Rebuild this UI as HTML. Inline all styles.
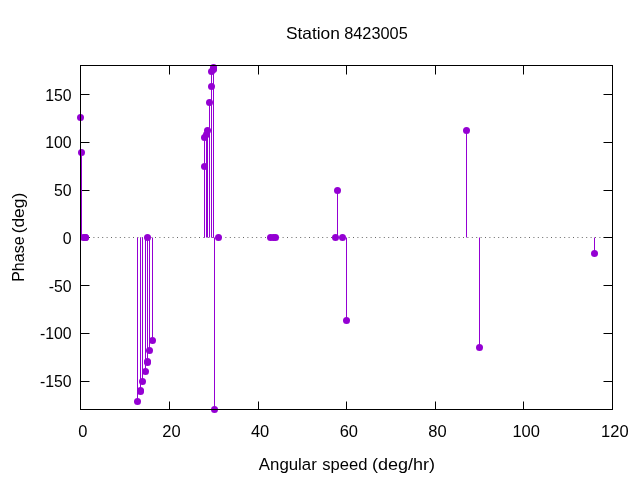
<!DOCTYPE html>
<html><head><meta charset="utf-8"><title>Station 8423005</title>
<style>html,body{margin:0;padding:0;background:#fff;overflow:hidden}svg{display:block}text{font-family:"Liberation Sans",sans-serif;font-size:16.5px;fill:#000}</style>
</head><body>
<svg width="640" height="480" viewBox="0 0 640 480">
<rect width="640" height="480" fill="#fff"/>
<line x1="80.2" y1="237.5" x2="612.5" y2="237.5" stroke="#000" stroke-width="0.6" stroke-dasharray="1 3.4"/>
<g stroke="#000" stroke-width="1" fill="none">
<line x1="169.5" y1="409.5" x2="169.5" y2="401.5"/>
<line x1="169.5" y1="65.5" x2="169.5" y2="74.5"/>
<line x1="258.5" y1="409.5" x2="258.5" y2="401.5"/>
<line x1="258.5" y1="65.5" x2="258.5" y2="74.5"/>
<line x1="346.5" y1="409.5" x2="346.5" y2="401.5"/>
<line x1="346.5" y1="65.5" x2="346.5" y2="74.5"/>
<line x1="435.5" y1="409.5" x2="435.5" y2="401.5"/>
<line x1="435.5" y1="65.5" x2="435.5" y2="74.5"/>
<line x1="523.5" y1="409.5" x2="523.5" y2="401.5"/>
<line x1="523.5" y1="65.5" x2="523.5" y2="74.5"/>
<line x1="80.5" y1="94.5" x2="89.5" y2="94.5"/>
<line x1="612.5" y1="94.5" x2="603.5" y2="94.5"/>
<line x1="80.5" y1="142.5" x2="89.5" y2="142.5"/>
<line x1="612.5" y1="142.5" x2="603.5" y2="142.5"/>
<line x1="80.5" y1="190.5" x2="89.5" y2="190.5"/>
<line x1="612.5" y1="190.5" x2="603.5" y2="190.5"/>
<line x1="80.5" y1="237.5" x2="89.5" y2="237.5"/>
<line x1="612.5" y1="237.5" x2="603.5" y2="237.5"/>
<line x1="80.5" y1="285.5" x2="89.5" y2="285.5"/>
<line x1="612.5" y1="285.5" x2="603.5" y2="285.5"/>
<line x1="80.5" y1="333.5" x2="89.5" y2="333.5"/>
<line x1="612.5" y1="333.5" x2="603.5" y2="333.5"/>
<line x1="80.5" y1="381.5" x2="89.5" y2="381.5"/>
<line x1="612.5" y1="381.5" x2="603.5" y2="381.5"/>
</g>
<g stroke="#9400d3" stroke-width="1" fill="none">
<line x1="80.5" y1="237.5" x2="80.5" y2="117.5"/>
<line x1="81.5" y1="237.5" x2="81.5" y2="152.5"/>
<line x1="137.5" y1="237.5" x2="137.5" y2="401.5"/>
<line x1="140.5" y1="237.5" x2="140.5" y2="390.5"/>
<line x1="140.5" y1="237.5" x2="140.5" y2="391.5"/>
<line x1="142.5" y1="237.5" x2="142.5" y2="381.5"/>
<line x1="145.5" y1="237.5" x2="145.5" y2="371.5"/>
<line x1="147.5" y1="237.5" x2="147.5" y2="361.5"/>
<line x1="147.5" y1="237.5" x2="147.5" y2="362.5"/>
<line x1="149.5" y1="237.5" x2="149.5" y2="350.5"/>
<line x1="152.5" y1="237.5" x2="152.5" y2="340.5"/>
<line x1="204.5" y1="237.5" x2="204.5" y2="166.5"/>
<line x1="204.5" y1="237.5" x2="204.5" y2="137.5"/>
<line x1="206.5" y1="237.5" x2="206.5" y2="134.5"/>
<line x1="207.5" y1="237.5" x2="207.5" y2="130.5"/>
<line x1="209.5" y1="237.5" x2="209.5" y2="102.5"/>
<line x1="211.5" y1="237.5" x2="211.5" y2="86.5"/>
<line x1="211.5" y1="237.5" x2="211.5" y2="71.5"/>
<line x1="213.5" y1="237.5" x2="213.5" y2="69.5"/>
<line x1="213.5" y1="237.5" x2="213.5" y2="68.5"/>
<line x1="213.5" y1="237.5" x2="213.5" y2="67.5"/>
<line x1="214.5" y1="237.5" x2="214.5" y2="409.5"/>
<line x1="337.5" y1="237.5" x2="337.5" y2="190.5"/>
<line x1="346.5" y1="237.5" x2="346.5" y2="320.5"/>
<line x1="466.5" y1="237.5" x2="466.5" y2="130.5"/>
<line x1="479.5" y1="237.5" x2="479.5" y2="347.5"/>
<line x1="594.5" y1="237.5" x2="594.5" y2="253.5"/>
</g>
<g fill="#9400d3">
<circle cx="80.5" cy="117.5" r="3.5"/>
<circle cx="81.5" cy="152.5" r="3.5"/>
<circle cx="83.5" cy="237.5" r="3.5"/>
<circle cx="85.5" cy="237.5" r="3.5"/>
<circle cx="85.5" cy="237.5" r="3.5"/>
<circle cx="137.5" cy="401.5" r="3.5"/>
<circle cx="140.5" cy="390.5" r="3.5"/>
<circle cx="140.5" cy="391.5" r="3.5"/>
<circle cx="142.5" cy="381.5" r="3.5"/>
<circle cx="145.5" cy="371.5" r="3.5"/>
<circle cx="147.5" cy="361.5" r="3.5"/>
<circle cx="147.5" cy="362.5" r="3.5"/>
<circle cx="147.5" cy="237.5" r="3.5"/>
<circle cx="149.5" cy="350.5" r="3.5"/>
<circle cx="152.5" cy="340.5" r="3.5"/>
<circle cx="204.5" cy="166.5" r="3.5"/>
<circle cx="204.5" cy="137.5" r="3.5"/>
<circle cx="206.5" cy="134.5" r="3.5"/>
<circle cx="207.5" cy="130.5" r="3.5"/>
<circle cx="209.5" cy="102.5" r="3.5"/>
<circle cx="211.5" cy="86.5" r="3.5"/>
<circle cx="211.5" cy="71.5" r="3.5"/>
<circle cx="213.5" cy="69.5" r="3.5"/>
<circle cx="213.5" cy="68.5" r="3.5"/>
<circle cx="213.5" cy="67.5" r="3.5"/>
<circle cx="214.5" cy="409.5" r="3.5"/>
<circle cx="218.5" cy="237.5" r="3.5"/>
<circle cx="270.5" cy="237.5" r="3.5"/>
<circle cx="273.5" cy="237.5" r="3.5"/>
<circle cx="275.5" cy="237.5" r="3.5"/>
<circle cx="335.5" cy="237.5" r="3.5"/>
<circle cx="337.5" cy="190.5" r="3.5"/>
<circle cx="342.5" cy="237.5" r="3.5"/>
<circle cx="346.5" cy="320.5" r="3.5"/>
<circle cx="466.5" cy="130.5" r="3.5"/>
<circle cx="479.5" cy="347.5" r="3.5"/>
<circle cx="594.5" cy="253.5" r="3.5"/>
</g>
<rect x="80.5" y="65.5" width="532.0" height="344.0" fill="none" stroke="#000" stroke-width="1"/>
<g id="labels" opacity="0.999">
<text transform="translate(285.91,39.1) scale(1.0516,1)">Station</text>
<text transform="translate(344.20,39.1) scale(0.9894,1)">8423005</text>
<text transform="translate(258.80,469.8) scale(1.0217,1)">Angular</text>
<text transform="translate(322.23,469.8) scale(1.0058,1)">speed</text>
<text transform="translate(371.95,469.8) scale(1.0936,1)">(deg/hr)</text>
<text transform="translate(24.1,281.84) rotate(-90) scale(0.9698,1)">Phase</text>
<text transform="translate(24.1,233.33) rotate(-90) scale(1.0545,1)">(deg)</text>
<text class="yl" transform="translate(71.6,101) scale(0.96,1.03)" text-anchor="end">150</text>
<text class="yl" transform="translate(71.6,148) scale(0.96,1.03)" text-anchor="end">100</text>
<text class="yl" transform="translate(71.6,196) scale(0.96,1.03)" text-anchor="end">50</text>
<text class="yl" transform="translate(71.6,244) scale(0.96,1.03)" text-anchor="end">0</text>
<text class="yl" transform="translate(71.6,292) scale(0.96,1.03)" text-anchor="end">-50</text>
<text class="yl" transform="translate(71.6,339) scale(0.96,1.03)" text-anchor="end">-100</text>
<text class="yl" transform="translate(71.6,387) scale(0.96,1.03)" text-anchor="end">-150</text>
<text class="xl" transform="translate(82.80,437) scale(1,1.03)" text-anchor="middle">0</text>
<text class="xl" transform="translate(171.47,437) scale(1,1.03)" text-anchor="middle">20</text>
<text class="xl" transform="translate(260.13,437) scale(1,1.03)" text-anchor="middle">40</text>
<text class="xl" transform="translate(348.80,437) scale(1,1.03)" text-anchor="middle">60</text>
<text class="xl" transform="translate(437.47,437) scale(1,1.03)" text-anchor="middle">80</text>
<text class="xl" transform="translate(526.13,437) scale(1,1.03)" text-anchor="middle">100</text>
<text class="xl" transform="translate(614.80,437) scale(1,1.03)" text-anchor="middle">120</text>
</g>
</svg></body></html>
